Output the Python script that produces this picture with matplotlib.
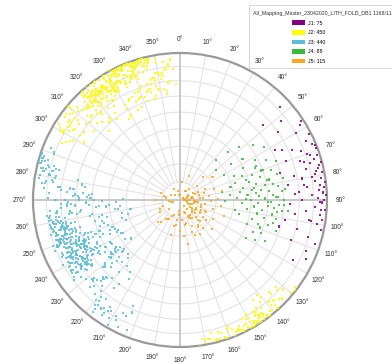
import numpy as np
import matplotlib
matplotlib.use("Agg")
import matplotlib.pyplot as plt
from matplotlib.patches import Patch, Rectangle

plt.rcParams['font.family'] = ['Liberation Sans', 'DejaVu Sans']

# ---- pole data (trend, plunge in degrees) ----
set_names = ["J1", "J2", "J3", "J4", "J5"]
set_counts = [75, 450, 440, 88, 115]
set_colors = ["#800080", "#ffff00", "#5bbcd6", "#3cb83c", "#ffa521"]
legend_title = "All_Mapping_Master_23042020_LITH_FOLD_DB1 1168/1168"

j1_trend = [47, 48, 52, 55, 58, 60, 62, 63, 65, 66, 67, 68, 69, 70, 71, 72, 72, 73, 74, 75,
            75, 76, 77, 78, 78, 79, 80, 80, 81, 82, 82, 83, 84, 84, 85, 86, 86, 87, 88, 88,
            89, 90, 90, 91, 92, 93, 94, 95, 96, 97, 98, 99, 100, 101, 102, 104, 106, 108, 110, 112,
            115, 118, 64, 70, 76, 83, 91, 99, 57, 105, 68, 79, 87, 94, 73]
j1_plunge = [8, 25, 14, 20, 4, 10, 28, 2, 6, 18, 3, 12, 1, 24, 7, 2, 15, 5, 9, 30,
             1, 13, 4, 22, 6, 2, 10, 17, 3, 8, 27, 1, 5, 14, 2, 20, 6, 3, 11, 1,
             7, 18, 2, 4, 26, 9, 1, 15, 5, 22, 3, 12, 6, 28, 2, 19, 10, 4, 21, 8,
             6, 14, 24, 9, 3, 16, 5, 11, 2, 31, 1, 7, 23, 4, 13]

j2_trend = [331, 325, 338, 320, 342, 328, 335, 318, 345, 323, 333, 340, 327, 336, 321, 344, 330, 326, 339, 324,
            334, 319, 341, 329, 337, 322, 346, 332, 317, 338, 326, 343, 330, 321, 336, 328, 347, 324, 333, 340,
            327, 343, 322, 335, 318, 339, 331, 325, 344, 329, 336, 320, 341, 333, 326, 338, 316, 332, 345, 323,
            338, 324, 332, 347, 320, 336, 328, 341, 322, 334, 318, 343, 330, 325, 339, 321, 335, 327, 342, 331,
            323, 340, 329, 316, 344, 333, 319, 337, 326, 342, 331, 324, 346, 335, 320, 339, 328, 334, 317, 341,
            336, 321, 345, 330, 325, 338, 318, 333, 340, 327, 322, 344, 331, 336, 319, 342, 329, 324, 337, 332,
            329, 342, 319, 334, 339, 323, 331, 346, 326, 335, 341, 320, 328, 337, 324, 343, 333, 318, 340, 326,
            341, 327, 336, 322, 330, 344, 317, 338, 332, 325, 347, 329, 321, 335, 340, 326, 333, 319, 338, 330,
            325, 337, 331, 343, 320, 328, 340, 324, 335, 318, 342, 330, 327, 345, 322, 336, 329, 339, 323, 334,
            332, 318, 340, 326, 345, 331, 322, 337, 329, 343, 324, 334, 339, 320, 328, 341, 333, 326, 344, 321,
            339, 330, 323, 346, 333, 319, 341, 327, 336, 322, 338, 329, 344, 325, 332, 317, 337, 342, 328, 335,
            326, 344, 335, 321, 338, 332, 347, 323, 330, 340, 319, 336, 327, 342, 334, 324, 339, 331, 320, 343,
            305, 352, 310, 348, 302, 355, 313, 345, 308, 350, 316, 304, 353, 311, 347, 307, 351, 314, 300, 349,
            312, 346, 306, 354, 318, 301, 349, 309, 356, 315, 343, 303, 351, 320, 310, 347, 305, 353, 317, 338,
            322, 309, 344, 315, 352, 328, 303, 348, 335, 311, 355, 319, 340, 306, 350, 325, 313, 346, 330, 302,
            308, 336, 354, 317, 326, 345, 301, 341, 313, 350, 323, 307, 348, 333, 310, 352, 319, 339, 304, 356,
            333, 314, 347, 303, 339, 318, 353, 326, 308, 344, 330, 312, 355, 321, 337, 305, 349, 316, 342, 324,
            296, 298, 300, 303, 297, 314, 322, 330, 338, 346, 353, 358, 357, 299, 301, 328, 341, 335, 318, 309,
            127, 131, 134, 136, 138, 139, 140, 141, 142, 143, 143, 144, 145, 145, 146, 147, 147, 148, 149, 150,
            150, 151, 152, 153, 154, 155, 156, 158, 160, 162, 164, 166, 168, 170, 172, 141, 143, 145, 146, 148,
            139, 142, 144, 146, 149, 151, 137, 135, 133, 130, 157, 159, 161, 163, 165, 167, 169, 144, 147, 140,
            142, 145, 148, 150, 152, 154, 138, 136, 146, 143, 141, 149, 153, 156, 160, 164, 171, 128, 132, 137,
            144, 147, 151, 139, 143, 146, 150, 155, 158, 162]
j2_plunge = [3, 8, 1, 11, 5, 2, 13, 6, 0, 9, 4, 7, 15, 2, 10, 3, 6, 12, 1, 8,
             5, 12, 2, 7, 0, 14, 4, 9, 3, 11, 6, 1, 16, 8, 2, 13, 5, 0, 10, 4,
             9, 2, 6, 13, 1, 7, 4, 15, 0, 10, 3, 8, 5, 12, 2, 6, 11, 1, 7, 14,
             1, 10, 5, 3, 12, 8, 0, 6, 14, 2, 9, 4, 11, 7, 1, 15, 3, 10, 5, 0,
             6, 3, 13, 8, 1, 11, 4, 0, 9, 5, 16, 2, 7, 12, 3, 10, 1, 6, 14, 4,
             2, 9, 5, 15, 7, 0, 11, 3, 8, 13, 1, 6, 10, 4, 12, 2, 8, 0, 14, 5,
             11, 4, 7, 1, 10, 6, 14, 2, 8, 3, 12, 0, 5, 9, 15, 1, 7, 4, 11, 2,
             4, 13, 0, 8, 2, 10, 5, 12, 1, 7, 3, 14, 6, 9, 0, 11, 4, 16, 2, 7,
             8, 1, 11, 3, 14, 6, 2, 9, 0, 12, 5, 7, 13, 1, 10, 4, 15, 3, 8, 6,
             0, 7, 10, 2, 5, 13, 8, 1, 12, 4, 9, 6, 0, 11, 3, 14, 2, 7, 10, 5,
             12, 5, 3, 9, 1, 8, 6, 15, 4, 11, 0, 13, 2, 7, 10, 5, 1, 9, 3, 16,
             7, 0, 14, 6, 10, 3, 2, 11, 5, 8, 13, 1, 9, 4, 6, 12, 0, 10, 7, 3,
             10, 14, 4, 22, 12, 8, 18, 25, 6, 2, 20, 15, 26, 9, 28, 3, 18, 12, 7, 24,
             16, 20, 8, 11, 22, 5, 13, 19, 4, 26, 24, 10, 15, 18, 2, 28, 21, 6, 14, 27,
             22, 7, 19, 12, 25, 18, 14, 16, 24, 20, 9, 27, 21, 4, 13, 23, 11, 17, 26, 3,
             13, 28, 21, 17, 20, 23, 9, 19, 24, 6, 27, 15, 18, 25, 1, 16, 29, 22, 11, 5,
             24, 18, 16, 14, 26, 21, 12, 19, 10, 23, 29, 6, 20, 17, 22, 8, 25, 13, 30, 18,
             12, 16, 9, 20, 14, 33, 31, 34, 32, 30, 28, 22, 12, 18, 25, 35, 27, 33, 29, 26,
             2, 8, 4, 12, 1, 6, 15, 3, 0, 9, 2, 5, 1, 11, 4, 0, 7, 3, 1, 5,
             0, 8, 2, 4, 1, 6, 3, 0, 5, 2, 7, 1, 4, 2, 0, 3, 1, 6, 0, 2,
             10, 13, 6, 9, 4, 1, 7, 5, 11, 2, 3, 9, 1, 6, 2, 8, 4, 17, 10, 3,
             1, 3, 0, 8, 5, 2, 4, 14, 6, 1, 18, 3, 10, 4, 7, 2, 5, 1, 13, 8,
             4, 2, 0, 9, 1, 5, 11, 3, 6, 2]

j3_trend = [241, 247, 252, 238, 259, 244, 250, 263, 236, 255, 248, 242, 258, 233, 251, 246, 261, 239, 254, 249,
            244, 237, 256, 250, 265, 241, 253, 235, 247, 260, 243, 252, 238, 257, 248, 266, 240, 255, 245, 251,
            249, 234, 258, 243, 253, 239, 262, 246, 251, 236, 256, 242, 248, 264, 237, 254, 245, 259, 240, 250,
            246, 255, 238, 261, 244, 252, 235, 249, 257, 241, 247, 263, 239, 253, 243, 258, 236, 250, 245, 256,
            252, 240, 248, 259, 237, 254, 244, 262, 247, 233, 251, 242, 257, 239, 255, 246, 260, 243, 249, 238,
            243, 258, 250, 236, 253, 245, 264, 240, 256, 248, 234, 252, 241, 259, 247, 237, 254, 244, 261, 249,
            255, 239, 247, 260, 242, 251, 235, 257, 246, 253, 238, 263, 244, 250, 241, 256, 248, 232, 258, 245,
            240, 253, 246, 262, 237, 249, 255, 243, 259, 234, 251, 247, 266, 239, 254, 242, 250, 245, 257, 236,
            248, 241, 256, 235, 252, 244, 260, 238, 250, 246, 263, 240, 253, 243, 258, 237, 249, 255, 242, 247,
            251, 245, 238, 257, 243, 254, 236, 249, 261, 241, 247, 255, 239, 252, 244, 259, 233, 248, 256, 240,
            246, 252, 242, 258, 239, 250, 264, 244, 255, 237, 248, 253, 241, 260, 245, 251, 235, 257, 243, 249,
            254, 238, 247, 262, 244, 250, 240, 256, 246, 252, 236, 259, 242, 248, 265, 239, 253, 245, 251, 241,
            220, 275, 228, 282, 216, 270, 224, 286, 230, 272, 218, 278, 226, 268, 214, 284, 232, 274, 222, 280,
            227, 271, 219, 283, 231, 276, 213, 269, 225, 287, 229, 273, 217, 281, 223, 267, 234, 277, 215, 285,
            221, 279, 233, 270, 218, 283, 226, 274, 212, 268, 230, 286, 224, 276, 216, 272, 228, 281, 220, 288,
            225, 269, 217, 278, 231, 284, 222, 273, 214, 280, 229, 267, 219, 285, 227, 275, 234, 271, 223, 282,
            218, 276, 230, 270, 213, 287, 224, 279, 221, 272, 232, 283, 216, 268, 228, 277, 219, 274, 226, 281,
            235, 265, 231, 268, 238, 262, 229, 271, 236, 266, 233, 264, 240, 269, 227, 263, 237, 267, 232, 270,
            245, 255, 242, 258, 248, 251, 240, 261, 246, 253, 243, 257, 249, 250, 239, 260, 244, 256, 247, 252,
            202, 290, 205, 288, 208, 292, 210, 285, 203, 289, 206, 284, 211, 291, 204, 287, 209, 283, 207, 286,
            215, 278, 224, 266, 232, 259, 241, 273, 219, 281, 228, 262, 237, 270, 246, 276, 213, 264, 222, 279,
            250, 235, 262, 228, 255, 243, 268, 231, 248, 257, 240, 265, 226, 253, 244, 271, 234, 260, 247, 238]
j3_plunge = [18, 24, 12, 30, 15, 22, 9, 27, 20, 14, 33, 17, 25, 11, 21, 28, 16, 23, 13, 19,
             26, 14, 20, 31, 17, 10, 24, 19, 29, 13, 22, 16, 35, 12, 27, 20, 15, 25, 18, 32,
             21, 12, 28, 16, 23, 19, 11, 30, 14, 25, 18, 22, 9, 26, 17, 13, 29, 20, 24, 15,
             13, 27, 19, 22, 30, 16, 24, 12, 20, 34, 18, 25, 14, 21, 28, 11, 23, 17, 26, 20,
             29, 16, 23, 14, 20, 27, 12, 18, 25, 22, 15, 31, 19, 24, 10, 21, 17, 28, 13, 26,
             17, 22, 14, 28, 19, 32, 16, 24, 12, 21, 27, 15, 23, 18, 30, 13, 20, 26, 11, 25,
             24, 18, 31, 13, 26, 20, 15, 22, 29, 17, 23, 12, 19, 36, 14, 21, 27, 16, 25, 20,
             15, 21, 27, 11, 24, 18, 30, 14, 22, 26, 17, 33, 20, 13, 25, 19, 28, 16, 23, 12,
             22, 28, 16, 25, 13, 20, 19, 31, 15, 24, 10, 21, 27, 18, 14, 26, 17, 23, 29, 19,
             19, 13, 25, 18, 30, 15, 21, 27, 12, 23, 17, 20, 28, 14, 24, 11, 26, 16, 22, 31,
             27, 15, 22, 19, 24, 12, 17, 29, 14, 21, 25, 18, 32, 13, 20, 26, 16, 23, 28, 11,
             14, 25, 20, 16, 28, 22, 33, 13, 26, 18, 24, 15, 21, 30, 12, 27, 19, 17, 23, 20,
             12, 8, 22, 5, 30, 16, 26, 3, 18, 28, 10, 14, 35, 20, 6, 9, 40, 24, 15, 4,
             20, 32, 9, 7, 38, 19, 14, 25, 27, 2, 33, 12, 17, 10, 42, 29, 21, 6, 11, 8,
             30, 13, 44, 23, 7, 3, 16, 34, 12, 27, 39, 5, 24, 18, 9, 31, 21, 11, 36, 1,
             18, 36, 26, 9, 41, 14, 22, 29, 8, 15, 31, 24, 13, 2, 37, 20, 45, 11, 28, 6,
             4, 26, 34, 17, 11, 7, 28, 3, 19, 37, 43, 12, 10, 24, 32, 8, 16, 40, 23, 15,
             38, 42, 45, 36, 40, 30, 48, 39, 35, 44, 41, 33, 37, 46, 43, 32, 34, 38, 47, 41,
             40, 44, 36, 43, 38, 47, 35, 39, 42, 45, 37, 48, 41, 34, 44, 38, 46, 40, 36, 42,
             5, 10, 14, 3, 8, 6, 2, 12, 18, 1, 4, 16, 7, 9, 22, 3, 11, 5, 15, 0,
             40, 35, 48, 50, 55, 45, 52, 38, 42, 30, 47, 53, 44, 32, 50, 28, 36, 56, 46, 33,
             58, 52, 55, 46, 60, 50, 54, 43, 49, 57, 53, 48, 40, 56, 51, 58, 45, 62, 47, 44]

j4_trend = [42, 45, 48, 50, 53, 55, 57, 58, 60, 62, 63, 65, 66, 67, 68, 69, 70, 71, 72, 73,
            74, 75, 75, 76, 77, 78, 78, 79, 80, 80, 81, 82, 82, 83, 84, 84, 85, 85, 86, 87,
            87, 88, 88, 89, 90, 90, 91, 91, 92, 93, 93, 94, 95, 95, 96, 97, 98, 99, 100, 101,
            102, 103, 104, 105, 106, 107, 108, 110, 112, 114, 116, 118, 120, 84, 79, 91, 96, 73, 88, 66,
            100, 77, 93, 82, 109, 89, 70, 97]
j4_plunge = [60, 52, 45, 64, 38, 55, 48, 33, 62, 42, 50, 36, 57, 44, 30, 53, 40, 47, 35, 58,
             43, 32, 50, 61, 38, 46, 29, 54, 41, 36, 48, 33, 56, 44, 39, 62, 31, 47, 52, 37,
             45, 34, 58, 42, 30, 50, 38, 65, 46, 33, 55, 40, 36, 48, 31, 43, 52, 37, 46, 34,
             41, 56, 35, 48, 38, 44, 32, 50, 40, 45, 36, 42, 47, 29, 66, 40, 27, 51, 35, 43,
             59, 39, 30, 49, 42, 53, 41, 34]

j5_trend = [5, 20, 35, 45, 50, 55, 60, 65, 70, 72, 75, 78, 80, 82, 85, 88, 90, 92, 95, 98,
            100, 102, 105, 108, 110, 112, 115, 118, 120, 122, 125, 128, 130, 132, 135, 138, 140, 142, 145, 148,
            150, 152, 155, 158, 160, 165, 170, 175, 180, 185, 190, 195, 200, 210, 220, 230, 240, 250, 260, 270,
            280, 290, 300, 315, 330, 345, 355, 62, 68, 74, 79, 84, 89, 93, 97, 103, 107, 113, 117, 123,
            127, 133, 137, 143, 147, 153, 163, 173, 183, 193, 205, 225, 245, 265, 285, 58, 66, 76, 86, 96,
            106, 116, 126, 136, 146, 156, 168, 188, 215, 255, 30, 40, 52, 64, 76]
j5_plunge = [80, 76, 84, 72, 78, 68, 82, 75, 86, 70, 79, 66, 83, 74, 77, 69, 85, 73, 80, 67,
             76, 82, 71, 78, 64, 84, 74, 80, 69, 77, 83, 72, 79, 66, 81, 75, 70, 84, 73, 78,
             68, 80, 74, 82, 71, 77, 65, 79, 73, 84, 76, 70, 81, 78, 74, 82, 77, 80, 85, 76,
             82, 79, 84, 86, 83, 85, 87, 88, 81, 76, 84, 79, 87, 82, 86, 78, 83, 75, 85, 80,
             74, 81, 77, 86, 72, 79, 83, 70, 82, 75, 80, 73, 78, 84, 81, 85, 79, 83, 88, 81,
             86, 77, 82, 74, 80, 69, 76, 79, 77, 86, 84, 82, 88, 85, 87]

trends = [j1_trend, j2_trend, j3_trend, j4_trend, j5_trend]
plunges = [j1_plunge, j2_plunge, j3_plunge, j4_plunge, j5_plunge]


def equal_area_radius(plunge_deg):
    """Schmidt (lower hemisphere, equal-area) radius for a given plunge."""
    p = np.asarray(plunge_deg, dtype=float)
    return np.sqrt(2.0) * np.sin(np.deg2rad(90.0 - p) / 2.0)


W, H, DPI = 392, 364, 100
fig = plt.figure(figsize=(W / DPI, H / DPI), dpi=DPI)
fig.patch.set_facecolor("white")

cx, cy, R = 180, 200, 147
ax = fig.add_axes([(cx - R) / W, (H - cy - R) / H, 2 * R / W, 2 * R / H],
                  projection="polar")
ax.set_theta_zero_location("N")
ax.set_theta_direction(-1)
ax.set_ylim(0, 1)
ax.grid(False)
ax.set_yticks([])

# net: small circles every 10 degrees of plunge
full = np.linspace(0, 2 * np.pi, 361)
for p in range(10, 90, 10):
    ax.plot(full, np.full_like(full, equal_area_radius(p)),
            color="#e3e3e3", lw=0.8, zorder=1)

# net: radial lines every 10 degrees, cardinal lines through the centre
r_inner = float(equal_area_radius(80))
for a in range(0, 360, 10):
    th = np.deg2rad(a)
    if a % 90 == 0:
        ax.plot([th, th], [0, 1], color="#c4c4c4", lw=1.3, zorder=1.5)
    else:
        ax.plot([th, th], [r_inner, 1], color="#e3e3e3", lw=0.8, zorder=1)

# poles
for name, tr, pl, col in zip(set_names, trends, plunges, set_colors):
    ax.scatter(np.deg2rad(tr), equal_area_radius(pl), s=2.2, marker="s",
               color=col, edgecolors="none", alpha=0.85, zorder=3)

ax.spines["polar"].set_color("#9a9a9a")
ax.spines["polar"].set_linewidth(1.6)

angles = np.arange(0, 360, 10)
ax.set_xticks(np.deg2rad(angles))
ax.set_xticklabels([f"{a}°" for a in angles], fontsize=4.8, color="#333333")
ax.tick_params(axis="x", direction="out", length=2, width=0.6,
               color="#777777", pad=0.5)

# legend
handles = [Patch(facecolor=c, edgecolor="none") for c in set_colors]
labels = [f"{n}: {c}" for n, c in zip(set_names, set_counts)]
fig.legend(handles, labels, loc="upper left",
           bbox_to_anchor=(292 / W, 1 - 20.5 / H), frameon=False,
           fontsize=3.8, handlelength=2.45, handleheight=0.95,
           handletextpad=0.55, labelspacing=0.85, borderpad=0,
           borderaxespad=0)
fig.text(253 / W, 1 - 14 / H, legend_title, fontsize=3.8, color="#333333",
         ha="left", va="center")
fig.patches.append(Rectangle((249 / W, 1 - 68 / H), 150 / W, 63 / H,
                             transform=fig.transFigure, fill=False,
                             edgecolor="#d0d0d0", lw=0.6))

fig.savefig("out.png", dpi=DPI, facecolor="white")
